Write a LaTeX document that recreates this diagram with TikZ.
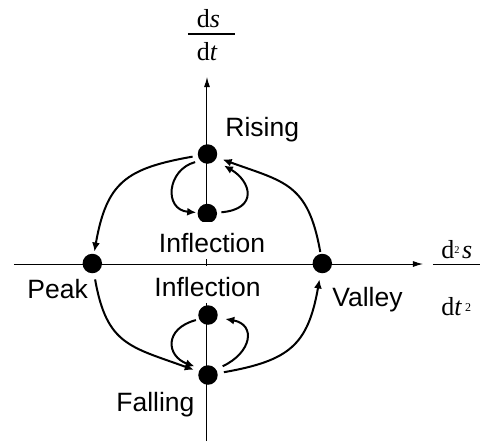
\documentclass[tikz,border=0pt]{standalone}
\usepackage{fontspec}
\setmainfont{Liberation Sans}
\newfontfamily\serfont{Liberation Serif}
\usetikzlibrary{arrows.meta}
\begin{document}
\begin{tikzpicture}[x=0.5pt,y=0.5pt,
  dot/.style={circle,fill=black,inner sep=0pt,minimum size=9.75pt},
  lbl/.style={font=\fontsize{13.25}{16}\selectfont,inner sep=0pt,anchor=base west},
  inflbl/.style={font=\fontsize{13.25}{16}\selectfont,inner sep=0pt,anchor=base,fill=white,text height=15pt,text depth=3.25pt},
  axisline/.style={line width=0.5pt,-{Latex[length=5pt,width=3pt]}},
  flow/.style={line width=1pt,-{Latex[length=4.5pt,width=4pt]}},
  mlbl/.style={font=\serfont\fontsize{13}{15}\selectfont,inner sep=0pt,anchor=base west},
  fracbar/.style={line width=0.6pt}]
\useasboundingbox (0,0) rectangle (489,-441);
% axes
\coordinate (xs) at (14,-264);
\coordinate (xe) at (423,-264);
\coordinate (ys) at (207,-441);
\coordinate (ye) at (207,-77);
\draw[axisline] (xs) -- (xe);
\draw[axisline] (ys) -- (ye);
% dots
\node[dot] (R) at (207.5,-154) {};
\node[dot] (I1) at (207.3,-213.5) {};
\node[dot] (P) at (92.3,-263.5) {};
\node[dot] (V) at (322.3,-263.5) {};
\node[dot] (I2) at (208,-315) {};
\node[dot] (F) at (208,-375) {};
% labels
\node[inflbl] (L1) at (212,-252) {Inflection};
\node[inflbl] (L2) at (207.5,-296) {Inflection};
\node[lbl] (LR) at (225,-136) {Rising};
\node[lbl] (LP) at (27,-298) {Peak};
\node[lbl] (LV) at (332,-306) {Valley};
\node[lbl] (LF) at (116,-411) {Falling};
% big cycle
\draw[flow,shorten <=2.5pt,shorten >=1pt] (R) to[out=190,in=80,looseness=1.3] (P);
\draw[flow,shorten <=3pt,shorten >=2.5pt] (P) to[out=280,in=160,looseness=1.3] (F);
\draw[flow,shorten <=3pt,shorten >=3pt] (F) to[out=10,in=260,looseness=1.3] (V);
\draw[flow,shorten <=0.75pt,shorten >=3pt] (V) to[out=100,in=-20,looseness=1.3] (R);
% inner loops
\draw[flow,shorten <=2.5pt,shorten >=0.5pt] (R.222) to[out=195,in=175,looseness=1.68] (I1.175);
\draw[flow,shorten <=2pt,shorten >=5pt] (I1.5) to[out=5,in=-30,looseness=2.03] (R.-40);
\draw[flow,shorten <=1.5pt,shorten >=3pt] (I2.205) to[out=195,in=160,looseness=1.88] (F.140);
\draw[flow,shorten <=3.5pt,shorten >=3.8pt] (F.35) to[out=25,in=-10,looseness=1.94] (I2.-15);
% axis labels
\node[mlbl] (yn) at (196.5,-27.7) {d\textit{s}};
\node[mlbl] (yd) at (196.5,-60) {d\textit{t}};
\coordinate (yb1) at (188,-34);
\coordinate (yb2) at (235,-34);
\draw[fracbar] (yb1) -- (yb2);
\node[mlbl] (xn) at (441,-258.3) {d\raisebox{2.65pt}{\fontsize{5.2}{6}\selectfont 2}\hspace{1.3pt}\textit{s}};
\node[mlbl] (xd) at (441,-315) {d\textit{t}\hspace{1.5pt}\raisebox{1.65pt}{\fontsize{6}{7}\selectfont 2}};
\coordinate (xb1) at (433,-264.3);
\coordinate (xb2) at (480,-264.3);
\draw[fracbar] (xb1) -- (xb2);
\end{tikzpicture}
\end{document}
